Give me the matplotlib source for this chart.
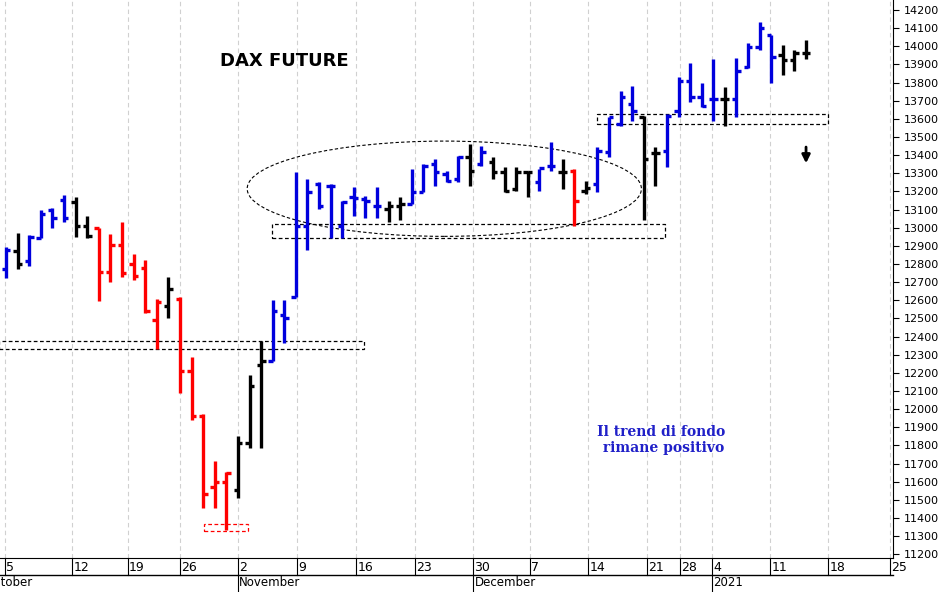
import matplotlib.pyplot as plt
import matplotlib.patches as patches
import numpy as np

# daily OHLC bars, DAX future, Oct 2020 - Jan 2021
opens = [12771, 12870, 12815, 12941, 13095, 13155, 13144, 13007, 12996, 12755,
         12903, 12799, 12777, 12492, 12569, 12607, 12213, 11962, 11573, 11600,
         11557, 11814, 12241, 12268, 12520, 12618, 13007, 13240, 13231, 13012,
         13171, 13160, 13122, 13105, 13122, 13133, 13198, 13352, 13297, 13270,
         13390, 13352, 13363, 13308, 13215, 13308, 13253, 13341, 13308, 13313,
         13204, 13242, 13417, 13571, 13680, 13609, 13412, 13423, 13642, 13806,
         13718, 13707, 13707, 13707, 13888, 13998, 14063, 13954, 13926, 13965]
highs = [12892, 12969, 12958, 13100, 13111, 13182, 13171, 13067, 13001, 12963,
         13034, 12854, 12821, 12607, 12728, 12618, 12290, 11972, 11715, 11655,
         11852, 12191, 12377, 12602, 12602, 13308, 13270, 13253, 13242, 13149,
         13226, 13177, 13226, 13149, 13171, 13324, 13352, 13379, 13313, 13395,
         13461, 13450, 13390, 13335, 13335, 13313, 13324, 13472, 13379, 13324,
         13259, 13444, 13609, 13751, 13779, 13614, 13444, 13625, 13828, 13910,
         13800, 13932, 13773, 13937, 14019, 14134, 14063, 14008, 13981, 14036]
lows = [12722, 12771, 12788, 12941, 13001, 13034, 12947, 12941, 12596, 12700,
        12728, 12711, 12531, 12334, 12503, 12087, 11940, 11458, 11458, 11332,
        11513, 11786, 11786, 12263, 12367, 12618, 12876, 13105, 12941, 12941,
        13062, 13051, 13056, 13034, 13040, 13133, 13198, 13231, 13253, 13253,
        13231, 13341, 13270, 13198, 13204, 13171, 13204, 13313, 13215, 13012,
        13188, 13198, 13390, 13560, 13587, 13040, 13231, 13335, 13609, 13691,
        13664, 13587, 13560, 13609, 13883, 13981, 13800, 13839, 13861, 13932]
closes = [12876, 12799, 12947, 13078, 13056, 13056, 13007, 12952, 12755, 12903,
          12750, 12733, 12542, 12591, 12662, 12213, 11962, 11535, 11600, 11650,
          11814, 12126, 12268, 12542, 12503, 13010, 13198, 13120, 13231, 13144,
          13166, 13149, 13122, 13122, 13133, 13198, 13341, 13308, 13259, 13390,
          13313, 13417, 13308, 13204, 13308, 13308, 13330, 13341, 13308, 13149,
          13220, 13423, 13609, 13718, 13642, 13379, 13412, 13614, 13806, 13718,
          13669, 13707, 13707, 13861, 13998, 14101, 13943, 13926, 13965, 13965]
colors = (['b', 'k', 'b', 'b', 'b', 'b', 'k', 'k'] + ['r'] * 6 + ['k'] + ['r'] * 5
          + ['k'] * 3 + ['b'] * 10 + ['k'] * 2 + ['b'] * 5 + ['k', 'b'] + ['k'] * 4
          + ['b', 'b', 'k', 'r', 'k'] + ['b'] * 4 + ['k', 'k'] + ['b'] * 5 + ['k']
          + ['b'] * 4 + ['k'] * 3)

day_labels = ['5', '12', '19', '26', '2', '9', '16', '23', '30', '7', '14', '21', '28', '4', '11', '18', '25']
day_pos = [-0.1, 5.7, 10.5, 15.0, 20.0, 25.1, 30.2, 35.3, 40.3, 45.2, 50.2, 55.3, 58.1, 60.9, 65.9, 70.9, 76.2]
month_labels = ['October', 'November', 'December', '2021']
month_pos = [-1.9, 20.0, 40.3, 60.9]

fig = plt.figure(figsize=(9.41, 5.92), dpi=100)
ax = fig.add_axes([0.0, 34 / 592, 893 / 941, 558 / 592])
ax.set_xlim(-0.52, 76.5)
ax.set_ylim(11180, 14255)

x = np.arange(len(opens))
tw = 0.38
for i in x:
    c = {'b': '#0000dd', 'k': 'black', 'r': '#ff0000'}[colors[i]]
    ax.plot([i, i], [lows[i], highs[i]], color=c, lw=2.4, solid_capstyle='butt')
    ax.plot([i - tw, i], [opens[i], opens[i]], color=c, lw=2.4, solid_capstyle='butt')
    ax.plot([i, i + tw], [closes[i], closes[i]], color=c, lw=2.4, solid_capstyle='butt')

# support zones
for x0, x1, y0, y1, col in [(-0.6, 30.9, 12334, 12378, 'black'),
                            (22.9, 56.8, 12941, 13023, 'black'),
                            (51.0, 70.9, 13571, 13625, 'black'),
                            (17.1, 20.9, 11327, 11365, 'red')]:
    ax.add_patch(patches.Rectangle((x0, y0), x1 - x0, y1 - y0, fill=False,
                                   ls=(0, (3, 2)), lw=0.9, ec=col))
ax.add_patch(patches.Ellipse((37.8, 13215), 34, 525, fill=False, ls=(0, (3, 2)), lw=0.8, ec='black'))

ax.text(24.0, 13920, 'DAX FUTURE', fontsize=13, fontweight='bold', ha='center', va='center')
ax.text(56.5, 11830, 'Il trend di fondo\n rimane positivo', fontsize=10, fontweight='bold',
        color='#2020c8', ha='center', va='center', family='DejaVu Serif')
ax.annotate('', xy=(69.0, 13340), xytext=(69.0, 13460),
            arrowprops=dict(arrowstyle='-|>', color='black', lw=2, mutation_scale=12))

# grid
for p in day_pos:
    ax.axvline(p, color='#d0d0d0', ls=(0, (4, 3)), lw=0.8, zorder=0)

ax.yaxis.tick_right()
ax.set_yticks(np.arange(11200, 14201, 100))
ax.tick_params(axis='y', labelsize=8, length=4, direction='out')
ax.set_xticks([])
for s in ['top', 'left']:
    ax.spines[s].set_visible(False)

# date axis rows
tr = ax.get_xaxis_transform()
for p, lab in zip(day_pos, day_labels):
    ax.text(p + 0.1, -0.006, lab, transform=tr, fontsize=9, ha='left', va='top', clip_on=False,
            family='Liberation Sans Narrow')
    ax.plot([p, p], [0, -0.03], transform=tr, color='black', lw=0.8, clip_on=False)
ax.plot([-0.52, 76.5], [-0.031, -0.031], transform=tr, color='black', lw=1, clip_on=False)
for p, lab in zip(month_pos, month_labels):
    ax.text(p + 0.1, -0.033, lab, transform=tr, fontsize=8.5, ha='left', va='top', clip_on=False,
            family='Liberation Sans Narrow')
    ax.plot([p, p], [-0.031, -0.06], transform=tr, color='black', lw=0.8, clip_on=False)

fig.savefig('out.png', dpi=100)
